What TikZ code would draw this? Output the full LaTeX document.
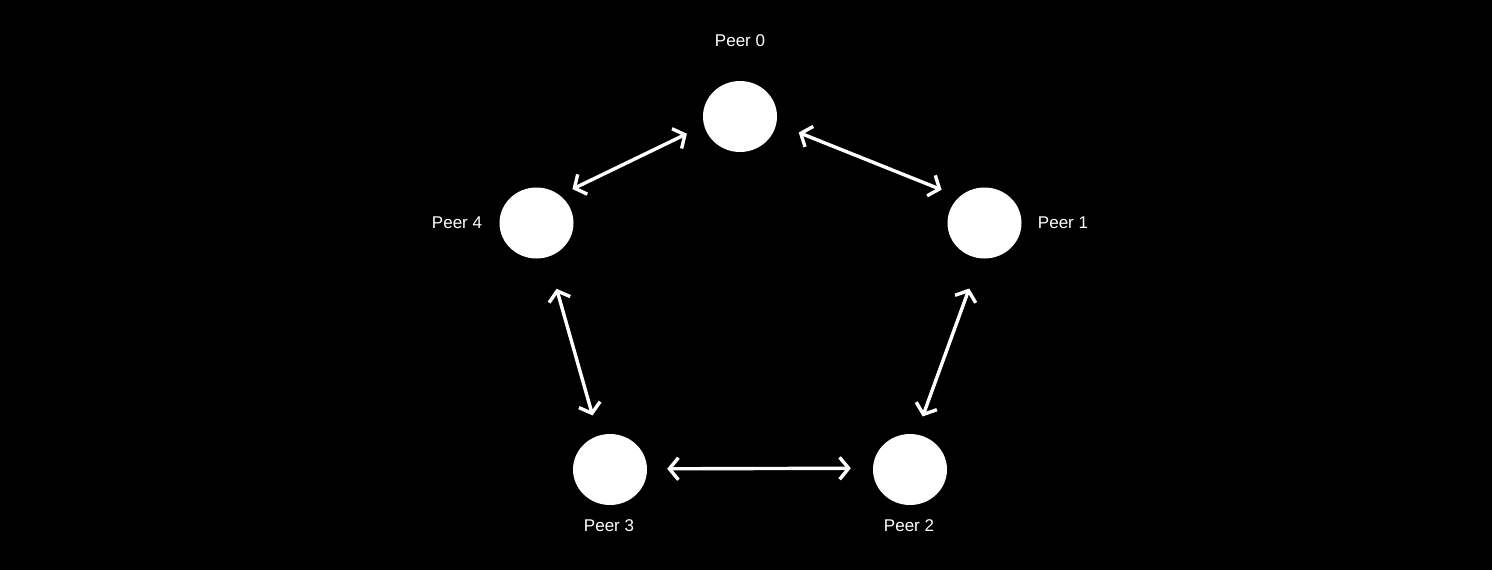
\documentclass[tikz,border=0pt]{standalone}
\usepackage{fontspec}
\setmainfont{Liberation Sans}
\usetikzlibrary{arrows.meta,shapes.geometric}
\begin{document}
\begin{tikzpicture}[x=1pt,y=-1pt,
  peer/.style={ellipse,fill=white,draw=none,minimum width=74pt,minimum height=71pt,inner sep=0pt},
  lbl/.style={text=white,font=\fontsize{17}{19}\selectfont,inner sep=0pt},
  link/.style={draw=white,line width=3.4pt,{Straight Barb[length=9pt,width=22pt,line width=3.4pt]}-{Straight Barb[length=9pt,width=22pt,line width=3.4pt]}}
]
\fill[black] (0,0) rectangle (1492,570);
\useasboundingbox (0,0) rectangle (1492,570);
\node[peer] (n0) at (740,116.5) {};
\node[peer] (n1) at (984.5,223) {};
\node[peer] (n2) at (910,469.5) {};
\node[peer] (n3) at (610,469.5) {};
\node[peer] (n4) at (536.5,223) {};
\node[lbl] (l0) at (740,41) {Peer 0};
\node[lbl] (l1) at (1063,223) {Peer 1};
\node[lbl] (l2) at (909,526) {Peer 2};
\node[lbl] (l3) at (609,526) {Peer 3};
\node[lbl] (l4) at (457,223) {Peer 4};
\draw[link,shorten <=24pt,shorten >=19pt] (n0.-11) -- (n1.134.6);
\draw[link,shorten <=19pt,shorten >=14pt] (n0.194) -- (n4.50);
\draw[link,shorten <=33pt,shorten >=21pt] (n4.-72.7) -- (n3.109.2);
\draw[link,shorten <=32pt,shorten >=19pt] (n1.263.6) -- (n2.80.5);
\draw[link,shorten <=20pt,shorten >=22pt] (n3.1.5) -- (n2.178.6);
\end{tikzpicture}
\end{document}
